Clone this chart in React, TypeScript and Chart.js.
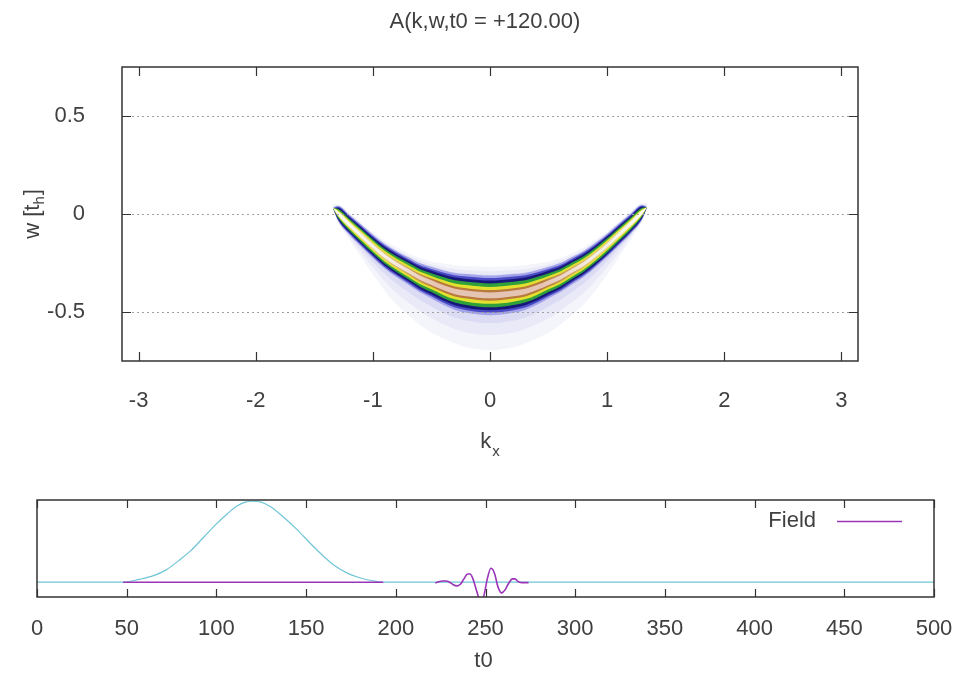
import React, { useEffect, useRef } from 'react';
import { Chart, registerables } from 'chart.js';

Chart.register(...registerables);

const FONT = "'Liberation Sans', Arial, Helvetica, sans-serif";
const TEXT = '#404040';
const FRAME = '#333333';

// ---------- top panel data ----------
const plotTitle = 'A(k,w,t0 = +120.00)';
const kTicks = [-3, -2, -1, 0, 1, 2, 3];
const wTicks = [-0.5, 0, 0.5];
const kRange = [-3.1416, 3.1416];
const wRange = [-0.75, 0.75];

const bandK = [-1.34, -1.3, -1.2, -1.1, -1.0, -0.9, -0.8, -0.7, -0.6, -0.5, -0.4, -0.3, -0.2, -0.1, 0, 0.1, 0.2, 0.3, 0.4, 0.5, 0.6, 0.7, 0.8, 0.9, 1.0, 1.1, 1.2, 1.3, 1.34];
const bandCenterW = [0.03, 0.005, -0.055, -0.11, -0.165, -0.215, -0.255, -0.29, -0.325, -0.35, -0.375, -0.395, -0.405, -0.412, -0.415, -0.412, -0.405, -0.395, -0.375, -0.35, -0.325, -0.29, -0.255, -0.21, -0.16, -0.105, -0.05, 0.01, 0.035];
const bandHalfWidth = [0, 0.032, 0.045, 0.049, 0.052, 0.055, 0.058, 0.061, 0.065, 0.07, 0.077, 0.082, 0.086, 0.088, 0.088, 0.088, 0.086, 0.082, 0.077, 0.07, 0.065, 0.061, 0.058, 0.055, 0.052, 0.049, 0.045, 0.032, 0];
const hazeUpperW = [0.05, 0.05, 0.005, -0.045, -0.095, -0.135, -0.17, -0.2, -0.225, -0.242, -0.253, -0.261, -0.266, -0.268, -0.27, -0.268, -0.266, -0.261, -0.253, -0.242, -0.225, -0.2, -0.17, -0.13, -0.09, -0.04, 0.01, 0.055, 0.055];
const hazeLowerW = [0.02, -0.04, -0.13, -0.22, -0.31, -0.39, -0.46, -0.515, -0.565, -0.605, -0.635, -0.66, -0.68, -0.69, -0.695, -0.69, -0.68, -0.66, -0.635, -0.605, -0.565, -0.515, -0.46, -0.39, -0.31, -0.22, -0.13, -0.035, 0.025];

const hazeFractions = [1, 0.6, 0.28];
const hazeColors = ['#f4f4fb', '#e9e9f7', '#dbdbf3'];
const bandFractions = [1.15, 1.0, 0.86, 0.69, 0.49, 0.31, 0.17];
const gradientK = [-1.34, -0.85, -0.45, 0.45, 0.85, 1.34];
const bandColors: (string | string[])[] = [
  '#a4a4ea',
  '#4a4ac4',
  '#17177a',
  '#2fa03a',
  '#e4e030',
  ['#fbfbe8', '#dcc47c', '#b87a3c', '#b87a3c', '#dcc47c', '#fbfbe8'],
  ['#ffffff', '#f6ece4', '#e6c4b4', '#e6c4b4', '#f6ece4', '#ffffff'],
];

// ---------- bottom panel data ----------
const t0Ticks = [0, 50, 100, 150, 200, 250, 300, 350, 400, 450, 500];
const t0Range = [0, 500];
const ampRange = [-0.18, 1.0];
const probeT = [0, 48, 57, 65, 72, 80, 86, 93, 100, 106, 111, 116, 120, 125, 130, 137, 145, 152, 160, 166, 173, 179, 184, 189, 193, 500];
const probeV = [0, 0, 0.035, 0.08, 0.15, 0.28, 0.39, 0.55, 0.71, 0.83, 0.92, 0.975, 0.985, 0.975, 0.92, 0.8, 0.64, 0.48, 0.31, 0.2, 0.11, 0.06, 0.03, 0.01, 0, 0];
const fieldLabel = 'Field';
const fieldT = [48, 193, 205, 222, 224, 226, 228, 230, 232, 234, 236, 238, 240, 241.5, 243, 245, 247, 249, 251, 253, 255, 257, 259, 261, 263, 265, 266.5, 268, 270, 274];
const fieldV = [0, 0, null, -0.01, 0.005, 0.015, 0.015, 0, -0.03, -0.045, -0.025, 0.04, 0.1, 0.1, 0.04, -0.1, -0.22, -0.17, 0.04, 0.17, 0.11, -0.06, -0.13, -0.09, -0.01, 0.04, 0.04, 0.01, -0.005, -0.005];

// ---------- helpers ----------
const mix = (a: number[], b: number[], f: number) => a.map((v, i) => v + f * (b[i] - v));
const bandTop = bandCenterW.map((c, i) => c + bandHalfWidth[i]);
const bandBottom = bandCenterW.map((c, i) => c - bandHalfWidth[i]);

type Layer = { upper: number[]; lower: number[]; color: string | string[] };
const layers: Layer[] = [
  ...hazeFractions.map((f, j) => ({ upper: mix(bandTop, hazeUpperW, f), lower: mix(bandBottom, hazeLowerW, f), color: hazeColors[j] })),
  ...bandFractions.map((f, j) => ({
    upper: bandCenterW.map((c, i) => c + f * bandHalfWidth[i]),
    lower: bandCenterW.map((c, i) => c - f * bandHalfWidth[i]),
    color: bandColors[j],
  })),
];

function layerFill(color: string | string[]) {
  if (typeof color === 'string') return color;
  return (ctx: any) => {
    const chart = ctx.chart;
    const xs = chart.scales && chart.scales.x;
    if (!xs || !chart.chartArea) return color[2];
    const x0 = xs.getPixelForValue(gradientK[0]);
    const x1 = xs.getPixelForValue(gradientK[gradientK.length - 1]);
    const g = chart.ctx.createLinearGradient(x0, 0, x1, 0);
    gradientK.forEach((k, i) => g.addColorStop((k - gradientK[0]) / (gradientK[gradientK.length - 1] - gradientK[0]), color[i]));
    return g;
  };
}

const topDatasets: any[] = [];
layers.forEach((L, li) => {
  const order = layers.length - li;
  const common = { borderColor: 'rgba(0,0,0,0)', borderWidth: 0, pointRadius: 0, order, cubicInterpolationMode: 'monotone' };
  topDatasets.push({ ...common, data: bandK.map((k, i) => ({ x: k, y: L.upper[i] })), fill: false });
  topDatasets.push({ ...common, data: bandK.map((k, i) => ({ x: k, y: L.lower[i] })), fill: '-1', backgroundColor: layerFill(L.color) });
});

const topDecor = {
  id: 'topDecor',
  afterDatasetsDraw(chart: any) {
    const { ctx, chartArea: a, scales } = chart;
    const x = scales.x;
    const y = scales.y;
    ctx.save();
    ctx.strokeStyle = '#a0a0a0';
    ctx.lineWidth = 1;
    ctx.setLineDash([2, 3]);
    for (const v of wTicks) {
      const py = Math.round(y.getPixelForValue(v)) + 0.5;
      ctx.beginPath();
      ctx.moveTo(a.left, py);
      ctx.lineTo(a.right, py);
      ctx.stroke();
    }
    ctx.setLineDash([]);
    ctx.strokeStyle = FRAME;
    ctx.lineWidth = 1.5;
    ctx.strokeRect(a.left, a.top, a.right - a.left, a.bottom - a.top);
    ctx.lineWidth = 1.2;
    for (const v of kTicks) {
      const px = Math.round(x.getPixelForValue(v)) + 0.5;
      ctx.beginPath();
      ctx.moveTo(px, a.bottom);
      ctx.lineTo(px, a.bottom - 9);
      ctx.moveTo(px, a.top);
      ctx.lineTo(px, a.top + 9);
      ctx.stroke();
    }
    for (const v of wTicks) {
      const py = Math.round(y.getPixelForValue(v)) + 0.5;
      ctx.beginPath();
      ctx.moveTo(a.left, py);
      ctx.lineTo(a.left + 9, py);
      ctx.moveTo(a.right, py);
      ctx.lineTo(a.right - 9, py);
      ctx.stroke();
    }
    // x axis title k_x
    ctx.fillStyle = TEXT;
    ctx.textBaseline = 'alphabetic';
    ctx.textAlign = 'left';
    ctx.font = `22px ${FONT}`;
    const wk = ctx.measureText('k').width;
    ctx.font = `15px ${FONT}`;
    const wx = ctx.measureText('x').width;
    const cx = (a.left + a.right) / 2;
    const sx = cx - (wk + 1 + wx) / 2;
    ctx.font = `22px ${FONT}`;
    ctx.fillText('k', sx, 448);
    ctx.font = `15px ${FONT}`;
    ctx.fillText('x', sx + wk + 1, 456);
    // y axis title w [t_h]
    ctx.translate(39, (a.top + a.bottom) / 2);
    ctx.rotate(-Math.PI / 2);
    ctx.font = `22px ${FONT}`;
    const p1 = 'w [t';
    const p3 = ']';
    const w1 = ctx.measureText(p1).width;
    const w3 = ctx.measureText(p3).width;
    ctx.font = `15px ${FONT}`;
    const w2 = ctx.measureText('h').width;
    let tx = -(w1 + w2 + w3 + 1) / 2;
    ctx.font = `22px ${FONT}`;
    ctx.fillText(p1, tx, 0);
    tx += w1;
    ctx.font = `15px ${FONT}`;
    ctx.fillText('h', tx, 5);
    tx += w2 + 1;
    ctx.font = `22px ${FONT}`;
    ctx.fillText(p3, tx, 0);
    ctx.restore();
  },
};

const bottomDecor = {
  id: 'bottomDecor',
  afterDatasetsDraw(chart: any) {
    const { ctx, chartArea: a, scales } = chart;
    const x = scales.x;
    ctx.save();
    ctx.strokeStyle = FRAME;
    ctx.lineWidth = 1.5;
    ctx.strokeRect(a.left, a.top, a.right - a.left, a.bottom - a.top);
    ctx.lineWidth = 1.2;
    for (const v of t0Ticks) {
      const px = Math.round(x.getPixelForValue(v)) + 0.5;
      ctx.beginPath();
      ctx.moveTo(px, a.bottom);
      ctx.lineTo(px, a.bottom - 8);
      ctx.moveTo(px, a.top);
      ctx.lineTo(px, a.top + 8);
      ctx.stroke();
    }
    // legend
    ctx.fillStyle = TEXT;
    ctx.font = `22px ${FONT}`;
    ctx.textAlign = 'right';
    ctx.textBaseline = 'middle';
    ctx.fillText(fieldLabel, 816, a.top + 21);
    ctx.strokeStyle = '#9b35b8';
    ctx.lineWidth = 1.5;
    ctx.beginPath();
    ctx.moveTo(837, a.top + 21.5);
    ctx.lineTo(902, a.top + 21.5);
    ctx.stroke();
    // axis title
    ctx.textAlign = 'center';
    ctx.fillText('t0', (a.left + a.right) / 2 - 2, 191);
    ctx.restore();
  },
};

const tickFont = { family: FONT, size: 22, weight: 'normal' as const };

export default function App() {
  const topRef = useRef<HTMLCanvasElement>(null);
  const botRef = useRef<HTMLCanvasElement>(null);

  useEffect(() => {
    const top = new Chart(topRef.current as HTMLCanvasElement, {
      type: 'line',
      data: { datasets: topDatasets },
      plugins: [topDecor],
      options: {
        responsive: false,
        animation: false,
        events: [],
        layout: { padding: { left: 15, right: 0, top: 0, bottom: 0 } },
        plugins: {
          legend: { display: false },
          tooltip: { enabled: false },
          title: {
            display: true,
            text: plotTitle,
            color: TEXT,
            font: { family: FONT, size: 22, weight: 'normal' },
            padding: { top: 9, bottom: 31.6 },
          },
        },
        scales: {
          x: {
            type: 'linear',
            min: kRange[0],
            max: kRange[1],
            afterBuildTicks: (s: any) => { s.ticks = kTicks.map((v) => ({ value: v })); },
            afterFit: (s: any) => { s.height = 109; s.paddingLeft = 0; s.paddingRight = 0; },
            grid: { display: false },
            border: { display: false },
            ticks: { color: TEXT, font: tickFont, padding: 19, maxRotation: 0, autoSkip: false },
          },
          y: {
            type: 'linear',
            min: wRange[0],
            max: wRange[1],
            afterBuildTicks: (s: any) => { s.ticks = wTicks.map((v) => ({ value: v })); },
            afterFit: (s: any) => { s.width = 107; },
            grid: { display: false },
            border: { display: false },
            ticks: { color: TEXT, font: tickFont, padding: 29 },
          },
          y2: {
            type: 'linear',
            position: 'right',
            min: 0,
            max: 1,
            afterFit: (s: any) => { s.width = 97; },
            grid: { display: false },
            border: { display: false },
            ticks: { display: false },
          },
        },
      } as any,
    });

    const bot = new Chart(botRef.current as HTMLCanvasElement, {
      type: 'line',
      data: {
        datasets: [
          {
            label: fieldLabel,
            data: fieldT.map((t, i) => ({ x: t, y: fieldV[i] })),
            borderColor: '#9b35b8',
            borderWidth: 1.6,
            pointRadius: 0,
            cubicInterpolationMode: 'monotone',
            fill: false,
            order: 0,
          } as any,
          {
            label: 'probe',
            data: probeT.map((t, i) => ({ x: t, y: probeV[i] })),
            borderColor: '#6fc5d6',
            borderWidth: 1.2,
            pointRadius: 0,
            cubicInterpolationMode: 'monotone',
            fill: false,
            order: 1,
          } as any,
        ],
      },
      plugins: [bottomDecor],
      options: {
        responsive: false,
        animation: false,
        events: [],
        layout: { padding: { left: 37, right: 21, top: 30, bottom: 0 } },
        plugins: { legend: { display: false }, tooltip: { enabled: false }, title: { display: false } },
        scales: {
          x: {
            type: 'linear',
            min: t0Range[0],
            max: t0Range[1],
            afterBuildTicks: (s: any) => { s.ticks = t0Ticks.map((v) => ({ value: v })); },
            afterFit: (s: any) => { s.height = 83; s.paddingLeft = 0; s.paddingRight = 0; },
            grid: { display: false },
            border: { display: false },
            ticks: { color: TEXT, font: tickFont, padding: 11, maxRotation: 0, autoSkip: false },
          },
          y: { type: 'linear', display: false, min: ampRange[0], max: ampRange[1] },
        },
      } as any,
    });

    return () => {
      top.destroy();
      bot.destroy();
    };
  }, []);

  return (
    <div style={{ position: 'absolute', left: 0, top: 0, width: 955, height: 680, background: '#ffffff' }}>
      <canvas ref={topRef} width={955} height={470} style={{ position: 'absolute', left: 0, top: 0, width: 955, height: 470 }} />
      <canvas ref={botRef} width={955} height={210} style={{ position: 'absolute', left: 0, top: 470, width: 955, height: 210 }} />
    </div>
  );
}
